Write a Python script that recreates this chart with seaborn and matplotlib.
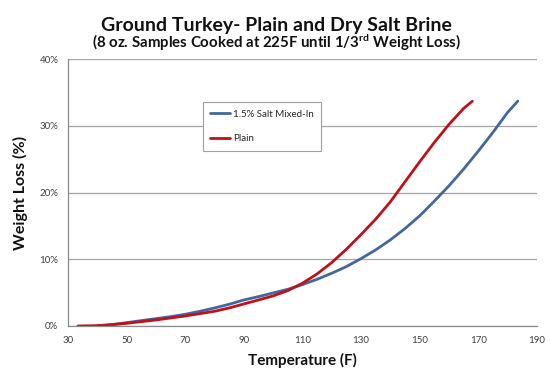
import seaborn as sns
import matplotlib.pyplot as plt
import pandas as pd

# ---------------------------
# Data
# ---------------------------
salt_temp = [40, 45, 50, 55, 60, 65, 70, 75, 80, 85, 90, 95, 100, 105, 110, 115, 120,
             125, 130, 135, 140, 145, 150, 155, 160, 165, 170, 175, 180, 183.5]
salt_loss = [0, 0.2, 0.5, 0.8, 1.1, 1.4, 1.75, 2.2, 2.7, 3.25, 3.9, 4.4, 4.95, 5.5, 6.2,
             7.0, 7.9, 8.9, 10.1, 11.4, 12.9, 14.6, 16.5, 18.7, 21.0, 23.5, 26.2, 29.0,
             32.0, 33.7]

plain_temp = [33.4, 40, 45, 50, 55, 60, 65, 70, 75, 80, 85, 90, 95, 100, 105, 110, 115,
              120, 125, 130, 135, 140, 145, 150, 155, 160, 165, 168]
plain_loss = [0, 0.05, 0.2, 0.4, 0.65, 0.9, 1.2, 1.5, 1.85, 2.2, 2.7, 3.3, 3.9, 4.5, 5.3,
              6.4, 7.8, 9.5, 11.5, 13.7, 16.0, 18.6, 21.6, 24.6, 27.5, 30.2, 32.6, 33.7]

series_names = ["1.5% Salt Mixed-In", "Plain"]
x_ticks = [30, 50, 70, 90, 110, 130, 150, 170, 190]
y_ticks = [0, 10, 20, 30, 40]

df = pd.concat([
    pd.DataFrame({"Temp": salt_temp, "Loss": salt_loss, "Series": series_names[0]}),
    pd.DataFrame({"Temp": plain_temp, "Loss": plain_loss, "Series": series_names[1]}),
])

# ---------------------------
# Visualization
# ---------------------------
sns.set_style("white")
plt.rcParams["font.family"] = ["Lato", "DejaVu Sans"]
plt.rcParams["mathtext.fontset"] = "custom"
plt.rcParams["mathtext.rm"] = "Lato:bold"
plt.rcParams["mathtext.it"] = "Lato:bold"

fig = plt.figure(figsize=(5.5, 3.72), dpi=100)
ax = fig.add_axes([0.1236, 0.1237, 0.976 - 0.1236, 0.841 - 0.1237])

palette = {series_names[0]: "#44679b", series_names[1]: "#c0101a"}
sns.lineplot(data=df, x="Temp", y="Loss", hue="Series", palette=palette,
             estimator=None, sort=False, linewidth=2.0, ax=ax)

ax.set_xlim(30, 190)
ax.set_ylim(0, 40)
ax.set_xticks(x_ticks)
ax.set_yticks(y_ticks)
ax.set_yticklabels([f"{v}%" for v in y_ticks])
ax.tick_params(axis="both", labelsize=7, colors="#8a8a8a", labelcolor="#404040",
               length=4, width=0.8, direction="out", pad=3)

ax.grid(axis="y", color="#a6a6a6", linewidth=0.9)
ax.grid(axis="x", visible=False)
for side in ["top", "right"]:
    ax.spines[side].set_visible(False)
for side in ["left", "bottom"]:
    ax.spines[side].set_color("#8a8a8a")
    ax.spines[side].set_linewidth(0.9)

ax.set_xlabel("Temperature (F)", fontsize=11, weight="bold", color="#111111", labelpad=6)
ax.set_ylabel("Weight Loss (%)", fontsize=11.5, weight="bold", color="#111111", labelpad=8)

leg = ax.legend(loc="upper left", bbox_to_anchor=(0.287, 0.84), fontsize=7,
                frameon=True, fancybox=False, edgecolor="#a0a0a0", framealpha=1,
                handlelength=2.0, handletextpad=0.3, labelspacing=1.6,
                borderpad=0.8, borderaxespad=0)
leg.get_frame().set_linewidth(0.8)

fig.text(0.502, 0.932, "Ground Turkey- Plain and Dry Salt Brine",
         ha="center", va="center", fontsize=14, weight="bold", color="#111111")
fig.text(0.502, 0.884, r"(8 oz. Samples Cooked at 225F until 1/3$^{\mathrm{rd}}$ Weight Loss)",
         ha="center", va="center", fontsize=10.8, weight="bold", color="#111111")

# ---------------------------
# Save chart
# ---------------------------
plt.savefig("out.png", dpi=100)
plt.close()
